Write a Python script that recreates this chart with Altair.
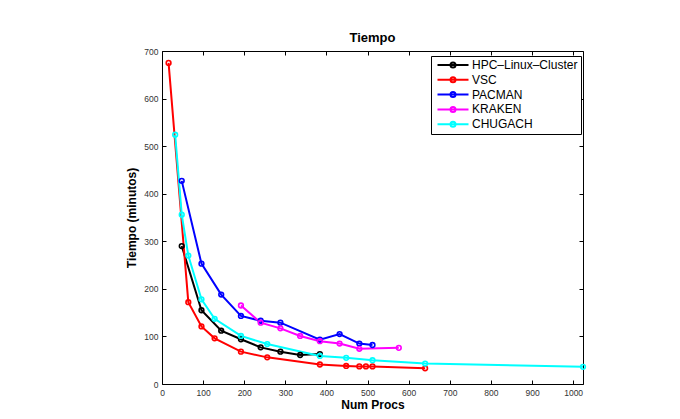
import altair as alt
import pandas as pd

FONT = "Liberation Sans"

series_names = ["HPC–Linux–Cluster", "VSC", "PACMAN", "KRAKEN", "CHUGACH"]
series_colors = ["#000000", "#FF0000", "#0000FF", "#FF00FF", "#00FFFF"]

hpc_procs = [48, 96, 144, 192, 240, 288, 336, 384]
hpc_time = [290, 155, 112, 94, 77, 68, 61, 63]
vsc_procs = [16, 64, 96, 128, 192, 256, 384, 448, 480, 496, 512, 640]
vsc_time = [675, 172, 121, 96, 68, 56, 41, 38, 37, 37, 37, 33]
pacman_procs = [48, 96, 144, 192, 240, 288, 384, 432, 480, 512]
pacman_time = [427, 253, 188, 143, 133, 129, 93, 105, 85, 82]
kraken_procs = [192, 240, 288, 336, 384, 432, 480, 576]
kraken_time = [165, 129, 117, 101, 90, 85, 74, 76]
chugach_procs = [32, 48, 64, 96, 128, 192, 256, 384, 448, 512, 640, 1024]
chugach_time = [524, 356, 270, 178, 137, 101, 84, 59, 55, 50, 43, 36]

x_ticks = list(range(0, 1001, 100))
y_ticks = list(range(0, 701, 100))

all_procs = [hpc_procs, vsc_procs, pacman_procs, kraken_procs, chugach_procs]
all_times = [hpc_time, vsc_time, pacman_time, kraken_time, chugach_time]

rows = []
for name, ps, ts in zip(series_names, all_procs, all_times):
    for i, (p, t) in enumerate(zip(ps, ts)):
        rows.append({"sistema": name, "procs": p, "tiempo": t, "idx": i})
df = pd.DataFrame(rows)

legend_path = "M-3.1,0H3.1M0.5,0A0.5,0.5,0,1,1,-0.5,0A0.5,0.5,0,1,1,0.5,0"

color = alt.Color(
    "sistema:N",
    scale=alt.Scale(domain=series_names, range=series_colors),
    sort=series_names,
    legend=alt.Legend(
        title=None, orient="none", legendX=269, legendY=5,
        symbolType=legend_path, symbolSize=100, symbolStrokeWidth=2,
        symbolOffset=13, labelOffset=13, labelFontSize=12, labelFont=FONT,
        labelColor="black", padding=3, rowPadding=0.8,
        strokeColor="black", fillColor="white",
    ),
)

xscale = alt.Scale(domain=[0, 1024], nice=False, zero=False)
yscale = alt.Scale(domain=[0, 700], nice=False)

axis_common = dict(
    offset=-4, tickSize=4, domain=False, grid=False, tickColor="black",
    labelFontSize=8.5, labelColor="#333333", labelFont=FONT, labelPadding=4,
    labelFlush=False, labelOverlap=False, format="d",
    titleFont=FONT, titleFontSize=12, titleFontWeight="bold", titleColor="black",
)

x_bottom = alt.X("procs:Q", scale=xscale,
                 axis=alt.Axis(title="Num Procs", values=x_ticks, orient="bottom",
                               titlePadding=3, **axis_common))
y_left = alt.Y("tiempo:Q", scale=yscale,
               axis=alt.Axis(title="Tiempo (minutos)", values=y_ticks, orient="left",
                             titlePadding=5, **axis_common))
x_top = alt.X("procs:Q", scale=xscale,
              axis=alt.Axis(title=None, values=x_ticks, orient="top", labels=False,
                            offset=-4, tickSize=4, domain=False, grid=False, tickColor="black"))
y_right = alt.Y("tiempo:Q", scale=yscale,
                axis=alt.Axis(title=None, values=y_ticks, orient="right", labels=False,
                              offset=-4, tickSize=4, domain=False, grid=False, tickColor="black"))

base = alt.Chart(df)
lines = base.mark_line(strokeWidth=2).encode(x=x_bottom, y=y_left, color=color, order="idx:Q")
points = base.mark_point(filled=False, size=22, strokeWidth=1.6, opacity=1).encode(
    x=x_top, y=y_right, color=color)

chart = (
    alt.layer(lines, points)
    .resolve_axis(x="independent", y="independent")
    .properties(
        width=421, height=333,
        title=alt.TitleParams("Tiempo", fontSize=13, fontWeight="bold", font=FONT,
                              anchor="middle", offset=2, color="black"),
        padding={"left": 154, "top": 43, "right": 89, "bottom": 27},
        autosize=alt.AutoSizeParams(type="none"),
        background="white",
    )
    .configure_view(stroke="black", strokeWidth=1)
)

chart.save("out.html", embed_options={"renderer": "svg", "actions": False})
